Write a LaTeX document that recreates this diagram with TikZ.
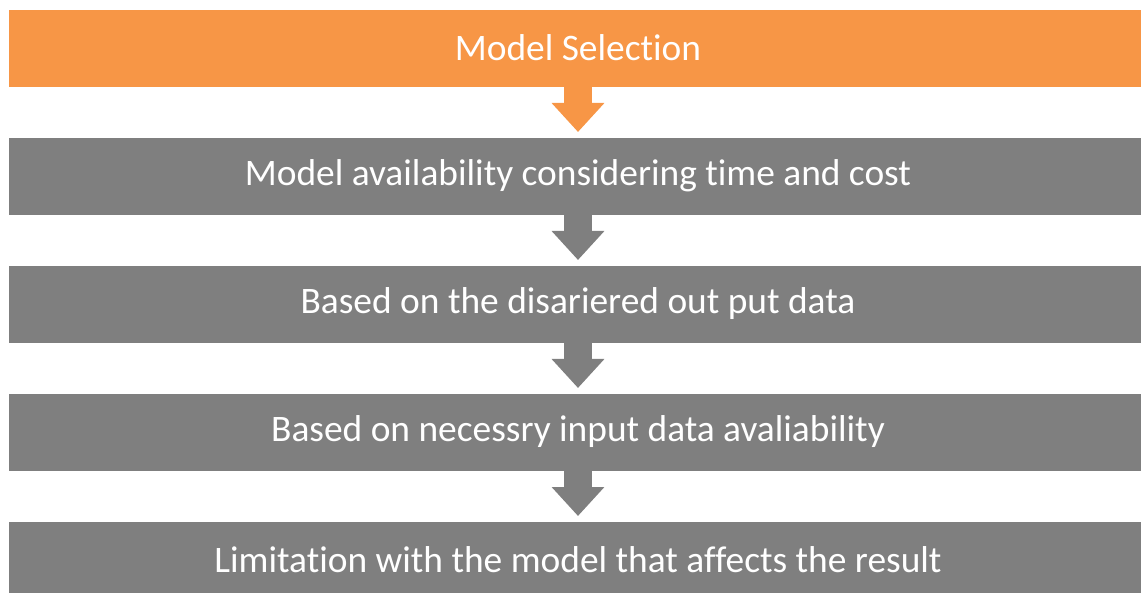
\documentclass[tikz,border=0pt]{standalone}
\usepackage{fontspec}
\setmainfont{Carlito}[Ligatures=NoCommon]
\usepackage{xcolor}
\usetikzlibrary{arrows.meta, positioning, calc}
\definecolor{myorange}{RGB}{247, 150, 70}
\definecolor{mygray}{RGB}{127, 127, 127}

\tikzset{
box/.style={rectangle, minimum width=1140pt, minimum height=78pt, inner sep=0pt, outer sep=0pt,
  fill=#1, draw=white, line width=0.6pt, text=white, font=\fontsize{37.4}{41}\selectfont},
flow/.style={line width=28pt, color=#1, -{Triangle[width=51pt, length=29pt]}, shorten >=5pt}
}

\begin{document}
\begin{tikzpicture}[x=1pt, y=1pt, node distance=50pt]
\useasboundingbox (0,0) rectangle (1141,-593);
\clip (0,0) rectangle (1141,-593);

\node[box=myorange] (sel) at (578,-48) {Model Selection};
\node[box=mygray, below=of sel] (avail) {Model availability considering time and cost};
\node[box=mygray, below=of avail] (output) {Based on the disariered out put data};
\node[box=mygray, below=of output] (input) {Based on necessry input data avaliability};
\node[box=mygray, below=of input] (limit) {Limitation with the model that affects the result};

\draw[flow=myorange] ([yshift=-0.5pt]sel.south) -- (avail.north);
\draw[flow=mygray] ([yshift=-0.5pt]avail.south) -- (output.north);
\draw[flow=mygray] ([yshift=-0.5pt]output.south) -- (input.north);
\draw[flow=mygray] ([yshift=-0.5pt]input.south) -- (limit.north);
\end{tikzpicture}
\end{document}
